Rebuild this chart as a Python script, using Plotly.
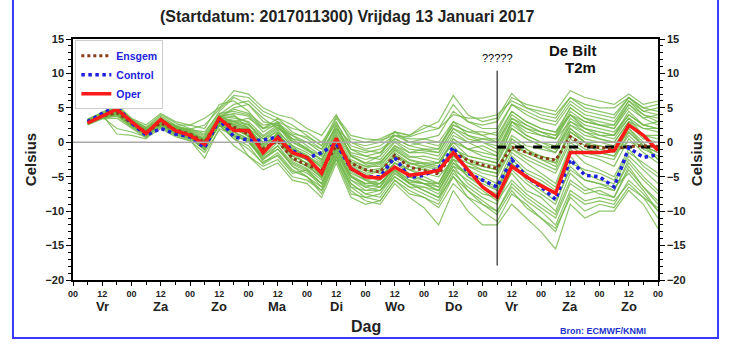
import plotly.graph_objects as go

# forecast hours (6-hourly) from start 2017011300
hours = [6 * i for i in range(1, 41)]

oper = [2.8, 3.8, 4.8, 3.0, 1.3, 3.3, 1.7, 1.0, -0.3, 3.5,
        1.7, 1.7, -1.5, 0.7, -1.5, -2.2, -4.5, 0.6, -3.8, -5.0,
        -5.2, -3.6, -4.8, -4.5, -4.1, -1.5, -4.1, -6.5, -8.0, -3.5,
        -5.0, -6.3, -7.4, -1.5, -1.5, -1.5, -1.2, 2.5, 1.0, -1.2]

control = [3.0, 4.2, 5.2, 2.8, 1.0, 2.0, 1.2, 0.8, -0.8, 3.3,
           0.8, 0.3, 0.3, 0.8, -1.2, -2.3, -1.5, -0.2, -3.8, -5.0,
           -5.0, -2.2, -5.1, -4.8, -3.8, -0.7, -4.5, -5.5, -6.5, -2.5,
           -5.0, -6.5, -8.3, -2.5, -4.8, -5.0, -6.5, -0.8, -2.2, -1.8]

ensgem = [3.0, 3.8, 4.3, 2.8, 1.5, 2.8, 1.8, 1.2, 0.0, 3.3,
          2.2, 1.2, -0.9, 0.2, -2.3, -3.3, -4.1, -0.5, -3.0, -4.0,
          -4.3, -1.9, -3.6, -4.1, -4.6, -1.5, -2.6, -3.3, -3.8, -0.7,
          -1.5, -2.2, -2.6, 0.8, -0.5, -0.8, -1.0, -0.6, -0.5, -0.6]

members = [
    [3.0, 3.9, 4.6, 2.9, 1.6, 3.0, 2.0, 1.5, 0.5, 3.6, 3.0, 2.5, 0.5, 2.0, 0.5, 0.0, -1.0, 2.0, 0.0, -0.5,
     0.0, 1.5, 1.0, 2.0, 3.0, 6.8, 4.0, 3.0, 3.5, 7.1, 5.0, 4.0, 3.5, 6.5, 5.0, 4.5, 4.0, 6.5, 5.0, 5.5],
    [2.6, 3.6, 4.0, 2.5, 1.0, 2.5, 1.2, 0.5, -1.0, 2.8, 1.0, 0.0, -2.5, -1.0, -3.5, -5.0, -7.5, -2.5, -7.0, -8.5,
     -9.0, -6.0, -8.0, -9.5, -12.0, -7.0, -10.0, -12.0, -12.0, -9.0, -11.0, -13.0, -15.5, -9.0, -11.0, -10.0, -10.0, -7.0, -9.0, -12.5],
    [3.2, 4.1, 5.0, 3.2, 2.0, 3.8, 2.5, 2.5, 3.5, 5.0, 7.5, 7.0, 5.0, 4.0, 3.5, 2.0, 1.0, 4.0, 0.0, -1.0,
     -0.5, 1.0, 0.5, 0.5, 0.0, 3.0, 1.0, 0.0, -1.0, 3.0, 2.0, 1.0, 0.5, 4.0, 3.0, 2.5, 2.0, 5.0, 3.5, 4.0],
    [2.8, 3.5, 3.8, 2.2, 0.8, 2.2, 1.0, 0.3, -2.3, 2.0, 1.0, -2.0, -4.0, -3.0, -5.5, -6.0, -8.0, -3.0, -8.0, -9.0,
     -8.5, -5.5, -7.0, -8.0, -9.0, -5.0, -8.0, -10.0, -11.5, -7.5, -9.0, -11.0, -13.0, -7.5, -9.0, -8.5, -9.0, -5.5, -7.5, -10.0],
    [3.0, 3.8, 4.4, 2.8, 1.4, 2.8, 1.8, 1.0, -0.2, 3.4, 2.0, 1.0, -1.0, 0.5, -2.0, -3.0, -4.0, -0.5, -3.5, -4.5,
     -4.0, -2.0, -3.5, -4.0, -4.5, -1.5, -2.5, -3.0, -3.5, -0.5, -1.5, -2.0, -2.5, 1.0, -0.5, -0.5, -1.0, 0.0, -0.5, -0.5],
    [2.9, 3.7, 2.0, 1.5, 0.8, 3.5, 2.2, 1.8, 1.0, 4.0, 5.5, 6.0, 4.0, 3.0, 2.0, 1.5, 0.0, 3.0, -1.0, -2.0,
     -2.5, 0.0, -1.5, -1.5, -2.0, 1.5, 0.0, -1.0, -2.0, 2.5, 1.0, 0.0, -1.0, 3.0, 2.0, 1.0, 1.0, 4.0, 2.5, 3.0],
    [3.3, 4.0, 1.2, 1.0, 0.5, 3.0, 1.5, 1.0, -0.5, 3.0, 1.5, 0.5, -2.0, -0.5, -3.0, -4.0, -6.0, -1.0, -5.0, -6.5,
     -7.0, -4.0, -5.5, -6.0, -7.0, -3.0, -5.0, -6.0, -7.0, -2.0, -4.0, -5.0, -6.5, -1.0, -3.0, -4.0, -5.0, -1.0, -3.5, -5.0],
    [2.7, 3.9, 5.3, 3.3, 2.2, 4.0, 2.8, 2.0, 1.2, 4.5, 6.5, 5.5, 3.0, 2.5, 1.0, 0.0, -1.5, 2.5, -2.0, -3.0,
     -3.0, -0.5, -2.0, -2.5, -3.0, 0.0, -1.0, -2.0, -2.5, 2.0, 0.5, -0.5, -1.0, 2.5, 1.5, 1.0, 0.5, 3.5, 2.0, 1.5],
    [3.1, 3.6, 4.2, 2.6, 1.2, 2.5, 1.5, 0.8, -1.2, 2.5, 0.5, -1.0, -3.0, -1.5, -4.0, -5.0, -6.5, -2.0, -6.0, -7.5,
     -8.0, -5.0, -6.5, -7.5, -8.5, -4.5, -6.5, -8.0, -9.0, -4.0, -6.0, -7.5, -9.0, -3.5, -5.5, -6.0, -7.0, -3.0, -5.5, -7.5],
    [3.0, 4.2, 5.5, 3.5, 2.5, 4.2, 3.0, 2.5, 2.0, 5.5, 6.0, 4.5, 2.0, 3.0, 0.5, -1.0, -2.5, 1.5, -1.5, -2.0,
     -1.5, 1.0, 0.0, 0.5, 1.0, 4.5, 3.0, 2.0, 2.0, 5.5, 4.0, 3.0, 2.5, 5.5, 4.0, 3.5, 3.0, 6.0, 4.0, 3.0],
    [2.5, 3.4, 3.5, 2.0, 0.6, 2.0, 0.8, 0.2, -1.5, 1.8, -0.5, -2.0, -3.5, -2.5, -5.0, -5.5, -7.0, -2.5, -7.5, -8.0,
     -7.5, -4.5, -6.0, -7.0, -8.0, -4.0, -7.0, -9.0, -10.0, -6.0, -8.0, -9.5, -11.0, -6.0, -7.5, -7.0, -8.0, -4.0, -6.5, -8.5],
    [3.4, 4.1, 4.8, 3.0, 1.8, 3.2, 2.2, 1.6, 0.3, 3.8, 3.5, 3.0, 1.0, 2.5, -0.5, -1.5, -3.0, 1.0, -2.5, -3.5,
     -3.5, -1.0, -2.5, -3.0, -3.5, 0.5, -1.0, -1.5, -2.0, 3.0, 1.5, 1.0, 0.5, 4.5, 3.0, 2.5, 2.0, 5.5, 3.5, 2.5],
    [2.8, 3.8, 4.5, 2.9, 1.5, 2.9, 1.7, 1.1, -0.3, 3.2, 2.5, 1.5, -0.5, 1.0, -1.0, -2.0, -3.5, 0.0, -3.0, -4.0,
     -4.5, -2.5, -4.0, -5.0, -6.0, -2.0, -4.0, -5.0, -6.0, -1.5, -3.0, -4.5, -6.0, -0.5, -2.0, -2.5, -3.5, 0.5, -1.5, -3.0],
    [3.0, 3.7, 4.0, 2.4, 1.1, 3.4, 2.4, 1.8, 1.5, 4.2, 4.5, 4.0, 2.0, 3.5, 1.5, 0.5, -1.0, 3.5, 0.5, 0.0,
     0.5, 1.5, 1.0, 2.5, 2.0, 5.5, 3.0, 2.5, 3.0, 6.5, 5.5, 5.0, 4.5, 7.5, 6.5, 6.0, 5.5, 7.0, 5.5, 6.0],
    [2.9, 3.9, 4.7, 3.1, 1.7, 2.6, 1.4, 0.6, -0.8, 2.6, 1.5, 0.0, -2.0, 0.0, -2.5, -3.5, -5.0, -1.5, -5.0, -6.0,
     -6.0, -3.5, -5.0, -6.0, -7.0, -3.5, -6.0, -7.5, -8.0, -4.5, -7.0, -8.0, -10.0, -4.5, -6.5, -7.5, -8.0, -3.5, -6.5, -9.0],
    [3.2, 4.3, 5.0, 3.0, 1.3, 3.6, 2.0, 1.3, 0.2, 3.9, 4.0, 2.0, -1.5, 1.5, -1.5, -2.5, -4.5, 0.5, -4.0, -5.0,
     -5.5, -3.0, -4.5, -5.5, -6.0, -2.5, -5.0, -6.5, -7.5, -3.0, -5.0, -6.0, -7.5, -2.0, -4.5, -5.5, -6.0, -2.0, -4.0, -6.0],
    [2.6, 3.5, 4.1, 2.7, 1.6, 3.1, 1.9, 1.4, 0.6, 3.6, 3.0, 3.5, 2.0, 2.5, 0.0, -1.0, -2.0, 2.0, -1.0, -1.5,
     -1.0, 0.5, -0.5, 0.0, -0.5, 2.5, 1.5, 1.5, 1.0, 4.5, 3.0, 2.0, 1.5, 4.0, 2.0, 1.5, 1.0, 3.5, 1.0, 0.5],
    [3.1, 3.8, 4.4, 2.7, 1.4, 2.7, 1.6, 0.9, -0.6, 3.0, 1.8, 1.2, -1.2, 0.2, -1.8, -2.5, -4.5, -0.5, -4.5, -5.5,
     -5.0, -3.0, -4.0, -4.5, -5.0, -2.5, -3.5, -4.5, -5.0, -1.0, -2.5, -3.5, -4.5, 0.0, -1.5, -2.0, -2.5, 1.5, -0.5, -1.5],
    [2.9, 4.0, 4.9, 3.2, 1.9, 3.3, 2.1, 1.7, 0.8, 3.7, 5.0, 5.5, 3.5, 2.0, 1.0, -0.5, -2.0, 2.5, -2.0, -3.0,
     -2.0, 1.5, 0.0, -0.5, -1.0, 3.0, 2.0, 1.0, 0.0, 4.0, 2.5, 1.5, 0.5, 3.0, 1.5, 0.5, 0.0, 3.0, 2.0, 2.0],
    [3.0, 3.7, 4.3, 2.6, 1.3, 2.9, 1.8, 1.2, -0.1, 3.1, 2.2, 0.8, -1.8, 0.8, -2.8, -3.8, -5.5, -1.2, -5.5, -7.0,
     -7.0, -4.5, -6.0, -6.5, -7.5, -4.0, -5.5, -7.0, -8.5, -5.5, -7.5, -9.0, -10.5, -5.5, -7.0, -6.5, -7.0, -2.5, -5.0, -7.0],
    [2.8, 3.9, 4.5, 3.0, 1.5, 3.0, 1.9, 1.3, 0.1, 3.5, 3.8, 2.8, 0.0, 1.8, -0.8, -1.8, -3.8, 0.3, -3.3, -4.2,
     -3.8, -1.5, -3.0, -3.5, -4.0, -1.0, -2.0, -2.5, -3.0, 1.0, -0.5, -1.0, -1.5, 2.0, 0.5, 0.0, -0.5, 2.5, 0.5, 0.0],
    [3.1, 3.6, 4.6, 2.9, 1.7, 2.4, 1.3, 0.7, -0.9, 2.4, 0.8, 0.3, -2.8, -2.0, -4.5, -4.0, -6.0, -2.0, -6.5, -7.0,
     -6.5, -3.5, -5.0, -5.5, -6.5, -3.0, -4.5, -5.5, -6.5, -2.5, -4.5, -5.5, -7.0, -3.0, -4.0, -4.5, -5.5, -1.5, -3.0, -4.5],
    [3.0, 4.0, 4.0, 2.5, 1.2, 3.1, 2.3, 1.9, 2.5, 4.8, 6.8, 6.5, 4.5, 3.5, 2.5, 1.0, -0.5, 3.8, 1.0, 0.5,
     0.3, 1.0, 0.8, 1.5, 2.0, 4.0, 3.5, 3.5, 4.0, 6.0, 5.0, 4.5, 4.0, 6.5, 5.5, 5.0, 5.0, 6.5, 5.0, 4.5],
    [2.7, 3.6, 4.4, 2.8, 1.5, 2.7, 1.7, 1.0, -0.4, 3.2, 2.0, 2.0, 0.5, 1.5, -0.5, -2.5, -5.0, 0.8, -3.5, -5.5,
     -6.5, -3.0, -4.0, -3.5, -3.0, 0.5, -1.0, -0.5, -1.5, 3.0, 1.0, 0.0, -0.5, 3.5, 2.0, 1.5, 1.0, 4.5, 2.5, 2.0],
    [3.3, 4.4, 5.2, 3.4, 2.1, 3.5, 2.4, 1.4, 0.2, 3.3, 2.8, 2.2, -0.8, 1.2, -1.5, -3.2, -5.2, -0.8, -4.8, -6.0,
     -5.5, -2.0, -3.0, -3.8, -4.5, -0.5, -3.0, -4.0, -4.5, 0.5, -1.0, -2.5, -3.5, 1.5, 0.0, -1.5, -2.0, 2.0, 0.0, -2.5],
    [2.9, 3.5, 3.9, 2.3, 1.0, 2.3, 1.1, 0.5, -1.0, 2.7, 1.2, 0.2, -2.2, -1.0, -3.2, -4.2, -6.5, -1.8, -6.0, -7.5,
     -7.0, -5.0, -6.5, -6.5, -7.0, -3.5, -4.5, -5.5, -7.0, -3.0, -5.5, -7.0, -8.5, -4.0, -5.5, -6.0, -6.5, -4.5, -7.0, -10.0],
    [3.1, 4.0, 4.7, 3.1, 1.8, 3.4, 2.1, 1.5, 0.4, 3.7, 4.2, 3.8, 1.5, 2.8, 0.2, -0.8, -2.8, 1.8, -1.8, -2.5,
     -2.0, 0.2, -1.0, -1.2, -1.5, 2.0, 0.5, 0.0, -0.5, 3.5, 2.0, 1.5, 1.0, 5.0, 3.5, 3.0, 2.5, 5.5, 4.0, 3.5],
    [2.8, 3.6, 4.3, 2.7, 1.3, 2.8, 1.6, 0.9, -0.7, 2.9, 1.5, 0.5, -2.5, -0.5, -3.5, -4.5, -6.0, -1.5, -5.5, -6.5,
     -6.0, -3.8, -5.5, -6.0, -6.5, -2.5, -3.5, -4.0, -4.5, -1.0, -2.0, -3.0, -4.0, 0.5, -1.0, -1.5, -2.0, 1.0, -1.0, -2.0],
    [3.0, 3.9, 4.8, 3.0, 1.6, 3.1, 2.0, 1.4, 0.3, 3.6, 3.2, 2.6, 0.8, 2.2, 0.0, -1.2, -2.5, 1.2, -2.0, -3.2,
     -2.8, -0.8, -2.2, -2.0, -2.5, 1.0, 0.0, 0.5, 0.5, 4.5, 3.0, 2.0, 1.5, 5.0, 3.5, 2.5, 2.5, 6.0, 4.5, 4.0],
    [2.9, 3.8, 4.5, 2.9, 1.4, 2.9, 1.8, 1.1, -0.2, 3.3, 2.4, 1.4, -1.0, 0.6, -2.0, -3.0, -4.8, -0.2, -4.2, -5.5,
     -6.0, -4.0, -6.0, -7.0, -8.0, -5.0, -7.0, -8.5, -10.0, -6.5, -8.5, -10.0, -12.0, -7.0, -8.5, -8.0, -8.5, -6.0, -8.0, -11.0],
    [3.2, 4.1, 4.9, 3.1, 1.7, 3.2, 1.9, 1.3, 0.0, 3.4, 2.6, 2.0, -0.3, 1.3, -1.2, -2.2, -3.5, 0.2, -3.0, -3.8,
     -3.2, -1.2, -2.6, -3.2, -3.8, -0.8, -2.5, -3.5, -4.0, 0.0, -1.5, -2.5, -3.0, 1.5, 0.0, -0.5, -1.0, 1.5, -0.5, -1.5],
    [2.7, 3.7, 4.6, 2.9, 1.5, 3.0, 1.7, 1.1, -0.1, 3.5, 4.8, 4.2, 2.5, 2.8, 1.2, 0.8, -0.5, 2.8, -0.5, -1.2,
     -1.5, 0.5, -0.5, -1.0, -1.5, 2.0, 1.0, 0.5, 0.0, 3.5, 2.5, 1.5, 1.0, 4.0, 2.5, 2.0, 1.5, 4.0, 2.5, 2.0],
    [3.0, 3.8, 4.2, 2.6, 1.2, 2.6, 1.4, 0.8, -1.0, 2.6, 0.5, -0.5, -3.2, -1.8, -4.2, -5.0, -7.0, -2.2, -6.5, -8.0,
     -8.5, -5.5, -7.5, -8.0, -9.5, -6.0, -8.0, -9.0, -10.5, -7.0, -9.5, -11.0, -12.5, -8.0, -10.0, -9.0, -9.5, -6.5, -8.0, -9.5],
    [3.1, 3.9, 4.4, 2.8, 1.5, 2.9, 1.8, 1.2, 0.2, 3.3, 3.0, 2.0, -0.2, 1.0, -1.0, -2.0, -3.2, 0.5, -2.8, -3.5,
     -3.0, -0.5, -1.5, -1.0, -1.0, 2.5, 1.5, 1.0, 1.5, 5.5, 4.5, 3.5, 3.0, 6.0, 4.5, 4.0, 3.5, 6.5, 4.5, 5.0],
    [2.9, 3.7, 4.5, 2.8, 1.4, 2.8, 1.7, 1.0, -0.4, 3.1, 1.9, 0.9, -1.6, 0.4, -2.4, -3.4, -5.2, -0.8, -5.0, -6.2,
     -6.5, -4.2, -5.8, -6.0, -6.0, -2.0, -3.0, -3.5, -4.0, 0.5, -1.0, -2.0, -3.0, 2.0, 0.0, -1.0, -1.5, 2.0, -0.5, -2.5],
    [3.0, 4.0, 4.6, 2.9, 1.6, 3.0, 1.9, 1.3, 0.1, 3.4, 2.6, 1.8, -0.6, 1.2, -1.4, -2.6, -4.2, -0.2, -3.8, -4.8,
     -4.2, -1.8, -3.2, -3.0, -3.0, 0.0, -2.0, -2.5, -3.0, 2.0, 0.5, -0.5, -1.5, 2.5, 1.0, 0.5, 0.0, 3.0, 1.0, 1.0],
]

tick_hours = list(range(0, 241, 12))
tick_text = ["00" if h % 24 == 0 else "12" for h in tick_hours]
day_hours = [12, 36, 60, 84, 108, 132, 156, 180, 204, 228]
day_labels = ["Vr", "Za", "Zo", "Ma", "Di", "Wo", "Do", "Vr", "Za", "Zo"]

clim_hours = [174, 240]
clim_value = [-0.7, -0.7]

FONT = "Liberation Sans, Arial, sans-serif"

fig = go.Figure()

# zero line (also anchors right axis)
fig.add_trace(go.Scatter(x=[0, 240], y=[0, 0], yaxis="y2", mode="lines",
                         line=dict(color="#a8a8a8", width=1.5), showlegend=False, hoverinfo="skip"))

for m in members:
    fig.add_trace(go.Scatter(x=hours, y=m, mode="lines",
                             line=dict(color="rgba(112,182,70,0.8)", width=1.2),
                             showlegend=False, hoverinfo="skip"))

fig.add_trace(go.Scatter(x=clim_hours, y=clim_value, mode="lines",
                         line=dict(color="black", width=3, dash="dash"), showlegend=False))
fig.add_trace(go.Scatter(x=hours, y=ensgem, mode="lines", name="Ensgem",
                         line=dict(color="#8b3a1a", width=3, dash="dot")))
fig.add_trace(go.Scatter(x=hours, y=control, mode="lines", name="Control",
                         line=dict(color="#1f1fe0", width=3.5, dash="dot")))
fig.add_trace(go.Scatter(x=hours, y=oper, mode="lines", name="Oper",
                         line=dict(color="#ff1a1a", width=3.5)))

axis_font = dict(family=FONT, size=11, color="#222", weight="bold")

fig.update_layout(
    width=732, height=349,
    margin=dict(l=73, r=74, t=39, b=69),
    paper_bgcolor="white", plot_bgcolor="white",
    font=dict(family=FONT),
    xaxis=dict(range=[0, 240], tickmode="array", tickvals=tick_hours, ticktext=tick_text,
               showline=True, linecolor="black", linewidth=1.5, mirror=True,
               ticks="outside", ticklen=4, tickcolor="black", showgrid=False, zeroline=False,
               tickfont=dict(family=FONT, size=9, color="#222", weight="bold"),
               minor=dict(tickmode="array", tickvals=list(range(6, 240, 12)), ticks="outside",
                          ticklen=3, tickcolor="black")),
    yaxis=dict(range=[-20, 15], dtick=5, showline=True, linecolor="black", linewidth=1.5,
               mirror=True, ticks="outside", ticklen=5, tickcolor="black", showgrid=False,
               zeroline=False, tickfont=axis_font,
               title=dict(text="Celsius", font=dict(family=FONT, size=15, color="#222", weight="bold"),
                          standoff=5),
               minor=dict(dtick=1, ticks="outside", ticklen=3, tickcolor="black")),
    yaxis2=dict(range=[-20, 15], dtick=5, overlaying="y", side="right", anchor="x",
                showline=True, linecolor="black", linewidth=1.5, ticks="outside", ticklen=5,
                tickcolor="black", showgrid=False, zeroline=False, tickfont=axis_font,
                title=dict(text="Celsius", font=dict(family=FONT, size=15, color="#222", weight="bold"),
                           standoff=7),
                minor=dict(dtick=1, ticks="outside", ticklen=3, tickcolor="black")),
    legend=dict(x=0.004, y=0.995, xanchor="left", yanchor="top", bgcolor="white",
                bordercolor="#cccccc", borderwidth=1, itemwidth=30, tracegroupgap=0,
                font=dict(family=FONT, size=10.5, color="#2222dd", weight="bold")),
    showlegend=True,
)

annotations = [
    dict(text="(Startdatum: 2017011300) Vrijdag 13 Januari 2017", xref="paper", yref="paper",
         x=0.47, y=1.095, yanchor="middle", showarrow=False,
         font=dict(family=FONT, size=16, color="#222", weight="bold")),
    dict(text="Dag", xref="paper", yref="paper", x=0.5, y=-0.195, yanchor="middle", showarrow=False,
         font=dict(family=FONT, size=16, color="#222", weight="bold")),
    dict(text="Bron: ECMWF/KNMI", xref="paper", yref="paper", x=0.983, y=-0.212, yanchor="middle",
         showarrow=False, font=dict(family=FONT, size=9, color="#2233cc", weight="bold")),
    dict(text="?????", x=174, y=12.2, yanchor="middle", showarrow=False,
         font=dict(family=FONT, size=11, color="black")),
    dict(text="De Bilt", x=205, y=13.3, yanchor="middle", showarrow=False,
         font=dict(family=FONT, size=15, color="#111", weight="bold")),
    dict(text="T2m", x=208, y=10.9, yanchor="middle", showarrow=False,
         font=dict(family=FONT, size=15, color="#111", weight="bold")),
]
for h, lab in zip(day_hours, day_labels):
    annotations.append(dict(text=lab, x=h, xref="x", yref="paper", y=-0.108, yanchor="middle",
                            showarrow=False,
                            font=dict(family=FONT, size=13, color="#222", weight="bold")))
fig.update_layout(annotations=annotations)

fig.add_shape(type="line", x0=174, x1=174, y0=-17.9, y1=10.4, xref="x", yref="y",
              line=dict(color="black", width=1))
fig.add_shape(type="rect", xref="paper", yref="paper", x0=-0.1026, x1=1.1026, y0=-0.2407, y1=1.25,
              line=dict(color="#3a3aff", width=2), fillcolor="rgba(0,0,0,0)")

fig.write_html("out.html")
